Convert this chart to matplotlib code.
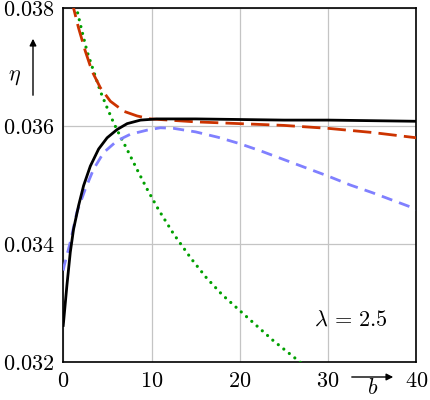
import matplotlib
matplotlib.use("Agg")
import matplotlib.pyplot as plt
from matplotlib.patches import FancyArrowPatch

plt.rcParams["mathtext.fontset"] = "cm"
plt.rcParams["font.family"] = "serif"
plt.rcParams["font.serif"] = ["DejaVu Serif"]

# values
b_black = [0, 0.04, 0.42, 0.8, 1.17, 1.74, 2.31, 3.07, 4.01, 4.97, 6.1, 7.24, 8.75,
           10.6, 15, 20, 25, 30, 35, 40]
eta_black = [0.03262, 0.03268, 0.0333, 0.03386, 0.03425, 0.03465, 0.03499, 0.03532,
             0.03561, 0.0358, 0.03594, 0.03604, 0.0361, 0.03612, 0.03612, 0.03611,
             0.0361, 0.0361, 0.03609, 0.03608]

b_blue = [0, 0.11, 0.8, 1.55, 2.5, 3.44, 4.58, 6.1, 7.6, 9.5, 11.0, 12.5, 15, 17.5,
          20, 22.5, 25, 27.5, 30, 32.5, 35, 37.5, 40]
eta_blue = [0.03355, 0.03363, 0.03403, 0.03454, 0.03493, 0.03527, 0.03555, 0.03575,
            0.03586, 0.03593, 0.03597, 0.03596, 0.0359, 0.03581, 0.0357, 0.03557,
            0.03543, 0.03529, 0.03515, 0.035, 0.03487, 0.03473, 0.03459]

b_red = [0.5, 1.17, 1.74, 2.5, 3.26, 4.2, 5.34, 6.85, 8.37, 9.9, 15, 20, 25, 30,
         35, 40]
eta_red = [0.0388, 0.038, 0.03766, 0.03727, 0.03693, 0.03665, 0.03642, 0.03625,
           0.03617, 0.03612, 0.03607, 0.03604, 0.03601, 0.03596, 0.03589, 0.0358]

b_green = [1.0, 1.55, 2.12, 2.69, 3.44, 4.2, 4.97, 5.72, 6.28, 7.24, 8.37, 9.5, 10.8,
           12.5, 14.5, 16.2, 18, 20, 23.8, 26.8, 30]
eta_green = [0.0384, 0.03797, 0.03761, 0.03727, 0.03693, 0.03659, 0.03631, 0.03605,
             0.03588, 0.0356, 0.03526, 0.03493, 0.03458, 0.03417, 0.03375, 0.03343,
             0.03314, 0.03287, 0.03236, 0.032, 0.0316]

xticks = [0, 10, 20, 30, 40]
yticks = [0.032, 0.034, 0.036, 0.038]

fig = plt.figure(figsize=(4.3, 4.0), dpi=100)
ax = fig.add_axes([0.147, 0.095, 0.8216, 0.885])

ax.plot(b_green, eta_green, color="#00a000", lw=2.3, dashes=(0.01, 2.2),
        dash_capstyle="round", zorder=3)
ax.plot(b_blue, eta_blue, color="#8080ff", lw=2.0, dashes=(4.0, 2.6), zorder=3)
ax.plot(b_red, eta_red, color="#cc3300", lw=2.0, dashes=(6.6, 2.6), zorder=4)
ax.plot(b_black, eta_black, color="black", lw=2.0, zorder=5)

ax.set_xlim(0, 40)
ax.set_ylim(0.032, 0.038)
ax.set_xticks(xticks)
ax.set_yticks(yticks)
ax.set_xticklabels([f"${v}$" for v in xticks], fontsize=16)
ax.set_yticklabels([f"${v:.3f}$" for v in yticks], fontsize=16)
ax.tick_params(length=0, pad=6)
ax.grid(color="#c4c4c4", lw=0.9)
for s in ax.spines.values():
    s.set_linewidth(1.2)

ax.text(0.815, 0.12, r"$\lambda\,=\,2.5$", transform=ax.transAxes, fontsize=16,
        ha="center", va="center")

# axis labels with arrows
fig.text(15 / 430, 1 - 76 / 400, r"$\eta$", fontsize=16, ha="center", va="center")
fig.add_artist(FancyArrowPatch(
    (33 / 430, 1 - 98 / 400), (33 / 430, 1 - 36 / 400), transform=fig.transFigure,
    arrowstyle="-|>,head_length=4,head_width=2", color="black", lw=1.0))
fig.text(373 / 430, 1 - 388 / 400, r"$b$", fontsize=16, ha="center", va="center")
fig.add_artist(FancyArrowPatch(
    (349 / 430, 1 - 377 / 400), (396 / 430, 1 - 377 / 400), transform=fig.transFigure,
    arrowstyle="-|>,head_length=4,head_width=2", color="black", lw=1.0))

fig.savefig("out.png", dpi=100)
